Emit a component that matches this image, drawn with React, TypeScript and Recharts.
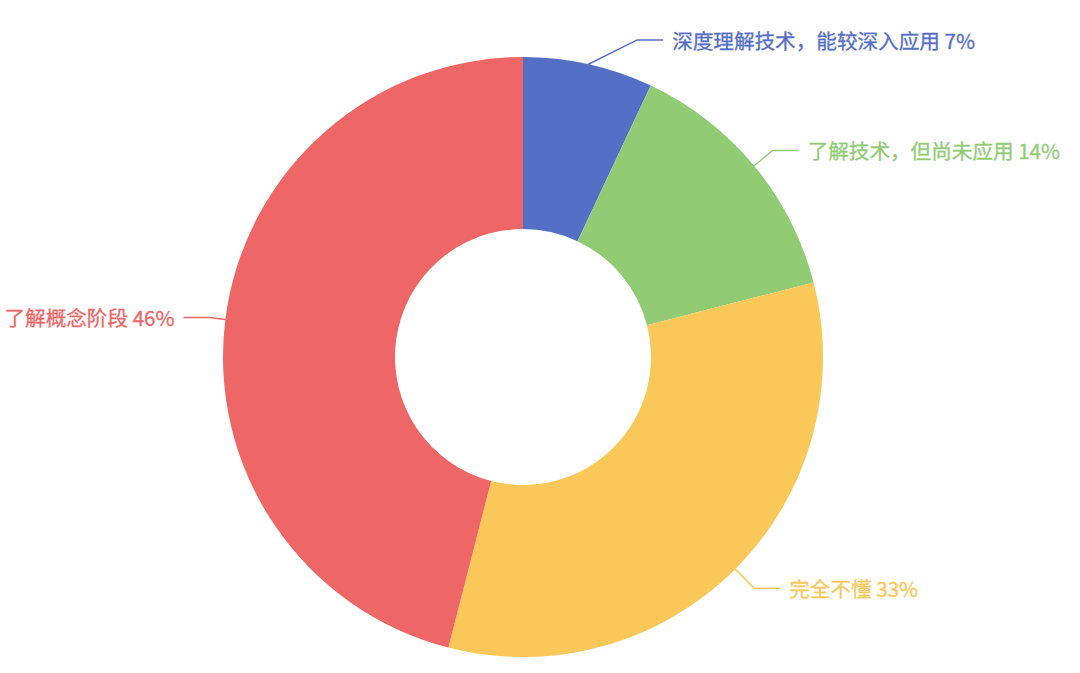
import { Cell, Pie, PieChart } from 'recharts'

const labels = ['深度理解技术，能较深入应用', '了解技术，但尚未应用', '完全不懂', '了解概念阶段']
const shares = [7, 14, 33, 46]
const colors = ['#5470c6', '#91cc75', '#fac858', '#ee6666']

// leader line tweaks per slice (first segment length, extra turn in degrees)
const leader = [
  { len: 37, turn: 7.2 },
  { len: 24, turn: 0 },
  { len: 27, turn: 0 },
  { len: 16, turn: 0 },
]

const data = labels.map((name, i) => ({ name, value: shares[i] }))

const RAD = Math.PI / 180

const polar = (cx: number, cy: number, r: number, angle: number) => ({
  x: cx + Math.cos(-angle * RAD) * r,
  y: cy + Math.sin(-angle * RAD) * r,
})

const renderLabel = (props: any) => {
  const { cx, cy, midAngle, outerRadius, index, name, value } = props
  const color = colors[index]
  const { len, turn } = leader[index]
  const start = polar(cx, cy, outerRadius, midAngle)
  const elbow = polar(cx, cy, outerRadius + len, midAngle - turn)
  const right = elbow.x >= cx
  const endX = right ? elbow.x + 26 : elbow.x - 26
  const textX = right ? endX + 9 : endX - 9

  return (
    <g>
      <polyline
        points={`${start.x},${start.y} ${elbow.x},${elbow.y} ${endX},${elbow.y}`}
        fill="none"
        stroke={color}
        strokeWidth={1.5}
      />
      <text
        x={textX}
        y={elbow.y}
        fill={color}
        stroke={color}
        strokeWidth={0.3}
        textAnchor={right ? 'start' : 'end'}
        dominantBaseline="central"
        fontSize={20.6}
        fontFamily='"Noto Sans CJK SC", "Noto Sans", sans-serif'
      >
        {`${name} ${value}%`}
      </text>
    </g>
  )
}

export default function App() {
  return (
    <div style={{ position: 'absolute', left: 0, top: 0, width: 1080, height: 673, background: '#fff' }}>
      <PieChart width={1080} height={673} margin={{ top: 0, right: 0, bottom: 0, left: 0 }}>
        <Pie
          data={data}
          dataKey="value"
          nameKey="name"
          cx={523}
          cy={357}
          innerRadius={128}
          outerRadius={300}
          startAngle={90}
          endAngle={-270}
          stroke="none"
          label={renderLabel}
          labelLine={false}
          isAnimationActive={false}
        >
          {data.map((d, i) => (
            <Cell key={d.name} fill={colors[i]} />
          ))}
        </Pie>
      </PieChart>
    </div>
  )
}
